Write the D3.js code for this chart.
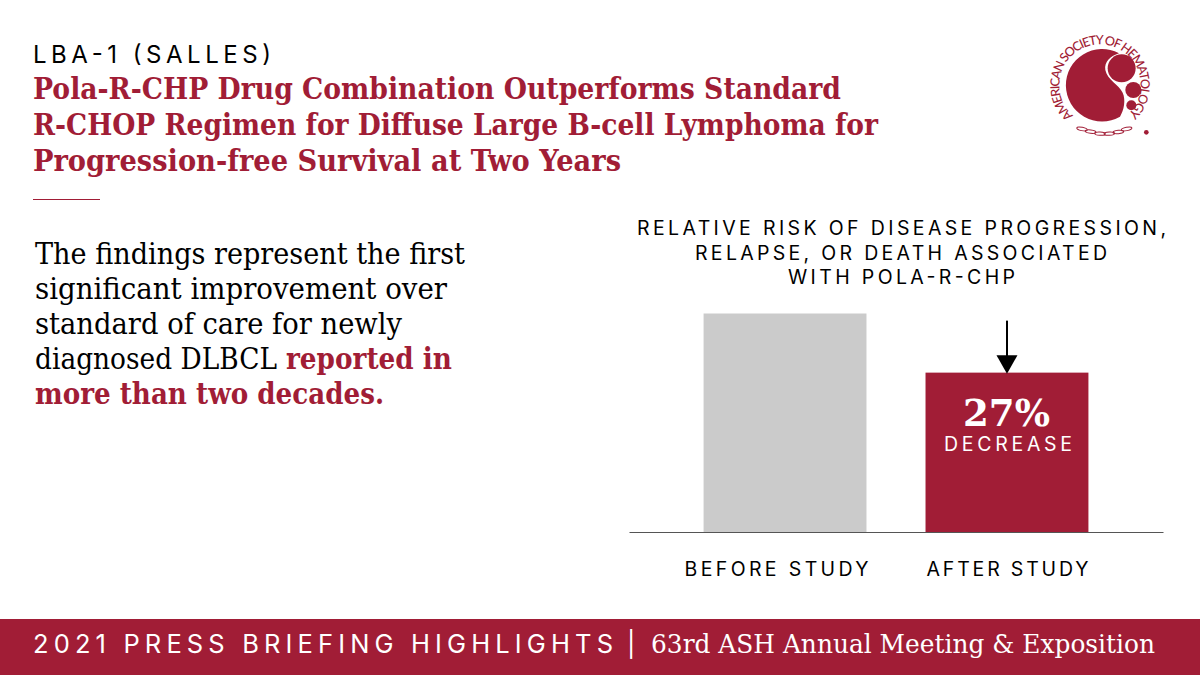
<!DOCTYPE html>
<html>
<head>
<meta charset="utf-8">
<script src="https://cdn.jsdelivr.net/npm/d3@7"></script>
<style>
  html, body { margin: 0; padding: 0; background: #fff; }
  svg { display: block; }
  .sans { font-family: Inter, Roboto, sans-serif; }
  .serif { font-family: "DejaVu Serif", serif; }
</style>
</head>
<body>
<div id="chart"></div>
<script>
// chart values
const categories = ["BEFORE STUDY", "AFTER STUDY"];
const riskValues = [100, 73];
const barColors = ["#cbcbcb", "#a11d36"];
const chartTitle = [
  "RELATIVE RISK OF DISEASE PROGRESSION,",
  "RELAPSE, OR DEATH ASSOCIATED",
  "WITH POLA-R-CHP"
];
const headline = [
  "Pola-R-CHP Drug Combination Outperforms Standard",
  "R-CHOP Regimen for Diffuse Large B-cell Lymphoma for",
  "Progression-free Survival at Two Years"
];
const bodyLines = [
  "The findings represent the first",
  "significant improvement over",
  "standard of care for newly",
  "diagnosed DLBCL"
];

const crimson = "#a11d36";
const svg = d3.select("#chart").append("svg").attr("width", 1200).attr("height", 675);

// fits a text to the width measured on the reference
function put(x, y, str, cls, size, width, opts = {}) {
  return svg.append("text")
    .attr("class", cls)
    .attr("x", x)
    .attr("y", y)
    .attr("font-size", size)
    .attr("font-weight", opts.weight || 400)
    .attr("fill", opts.fill || "#000")
    .attr("textLength", width)
    .attr("lengthAdjust", opts.adjust || "spacingAndGlyphs")
    .text(str);
}

// header
put(33, 63, "LBA-1 (SALLES)", "sans", 24, 238, { adjust: "spacing" });
const headlineWidths = [808, 845, 588];
headline.forEach((d, i) => {
  put(33, 99 + i * 36.2, d, "serif", 29.5, headlineWidths[i], { weight: 700, fill: crimson });
});
svg.append("line")
  .attr("x1", 33).attr("x2", 100)
  .attr("y1", 199.5).attr("y2", 199.5)
  .attr("stroke", crimson).attr("stroke-width", 1);

// body copy
const bodyWidths = [430, 412, 367, 242];
bodyLines.forEach((d, i) => {
  put(35, 264 + i * 35, d, "serif", 29, bodyWidths[i]);
});
put(286, 369, "reported in", "serif", 29, 166, { weight: 700, fill: crimson });
put(35, 404, "more than two decades.", "serif", 29, 349, { weight: 700, fill: crimson });

// chart
const chartTitleX = [637, 695, 788];
const chartTitleW = [529, 412, 227];
chartTitle.forEach((d, i) => {
  put(chartTitleX[i], 235 + i * 24.5, d, "sans", 19.5, chartTitleW[i], { adjust: "spacing" });
});

const x = d3.scaleBand()
  .domain(categories)
  .range([629, 1163])
  .paddingInner(0.266)
  .paddingOuter(0.336);

const y = d3.scaleLinear().domain([0, 100]).range([532.5, 313.5]);

svg.selectAll("rect.bar")
  .data(riskValues)
  .join("rect")
  .attr("class", "bar")
  .attr("x", (d, i) => x(categories[i]))
  .attr("y", (d) => y(d))
  .attr("width", x.bandwidth())
  .attr("height", (d) => y(0) - y(d))
  .attr("fill", (d, i) => barColors[i]);

const axis = svg.append("g")
  .attr("transform", `translate(0,${y(0) - 0.5})`)
  .call(d3.axisBottom(x).tickSize(0).tickPadding(30));
axis.select(".domain").attr("stroke", "#555").attr("stroke-width", 1.2);
// the reference labels are not quite centred under the bars
const labelShift = [-8.5, 0.5];
const labelWidth = [184, 162];
axis.selectAll(".tick text")
  .attr("class", "sans")
  .attr("font-size", 19.5)
  .attr("fill", "#000")
  .attr("text-anchor", "start")
  .attr("x", (d, i) => labelShift[i] - labelWidth[i] / 2)
  .attr("textLength", (d, i) => labelWidth[i])
  .attr("lengthAdjust", "spacing");

// arrow and callout on the second bar
const afterX = x(categories[1]) + x.bandwidth() / 2;
const afterY = y(riskValues[1]);
svg.append("line")
  .attr("x1", afterX).attr("x2", afterX)
  .attr("y1", afterY - 52).attr("y2", afterY - 8)
  .attr("stroke", "#000").attr("stroke-width", 2);
svg.append("path")
  .attr("d", d3.line()([[afterX - 10.5, afterY - 17.5], [afterX + 10.5, afterY - 17.5], [afterX, afterY + 1]]))
  .attr("fill", "#000");

put(963, afterY + 53, "27%", "serif", 38, 87, { weight: 700, fill: "#fff" });
put(944, afterY + 78, "DECREASE", "sans", 19.5, 128, { fill: "#fff", adjust: "spacing" });

// footer
svg.append("rect")
  .attr("x", 0).attr("y", 619)
  .attr("width", 1200).attr("height", 56)
  .attr("fill", crimson);
put(33, 653, "2021 PRESS BRIEFING HIGHLIGHTS", "sans", 25.5, 580, { fill: "#fff", adjust: "spacing" });
put(627, 653, "|", "sans", 25, 5, { fill: "#fff", adjust: "spacing" });
put(651, 653, "63rd ASH Annual Meeting & Exposition", "serif", 26, 504, { fill: "#fff" });

// logo
const logo = svg.append("g").attr("transform", "translate(1020,20) scale(0.3333)");
logo.append("path")
  .attr("d", "M297,100 A108.5,108.5 0 1 0 300,290 C312,270 318,240 308,218 C298,195 262,180 256,150 C252,125 272,108 297,100 Z")
  .attr("fill", crimson);
const logoDots = [[305, 145, 42], [340, 210, 24], [334, 256, 15]];
logo.selectAll("circle.dot")
  .data(logoDots)
  .join("circle")
  .attr("class", "dot")
  .attr("cx", (d) => d[0])
  .attr("cy", (d) => d[1])
  .attr("r", (d) => d[2])
  .attr("fill", crimson);

// ring text runs clockwise from lower left, the path is longer than the text
const ring = d3.path();
ring.arc(240, 195, 122, (131 * Math.PI) / 180, (440 * Math.PI) / 180);
svg.append("defs").append("path")
  .attr("id", "logoRing")
  .attr("d", ring.toString());
logo.append("text")
  .attr("font-family", "Lato, sans-serif")
  .attr("font-size", 38)
  .attr("font-weight", 500)
  .attr("fill", crimson)
  .append("textPath")
  .attr("href", "#logoRing")
  .attr("textLength", 585)
  .attr("lengthAdjust", "spacing")
  .text("AMERICAN SOCIETY OF HEMATOLOGY");

// chain under the blob
const chainLinks = [[186, 327, 12], [212, 335, 6], [240, 341, 3], [268, 341, -3], [295, 336, -6], [320, 327, -12]];
logo.selectAll("ellipse.link")
  .data(chainLinks)
  .join("ellipse")
  .attr("class", "link")
  .attr("rx", 16)
  .attr("ry", 5)
  .attr("transform", (d) => `translate(${d[0]},${d[1]}) rotate(${d[2]})`)
  .attr("fill", "none")
  .attr("stroke", crimson)
  .attr("stroke-width", 3);
logo.append("circle")
  .attr("cx", 379).attr("cy", 337).attr("r", 7)
  .attr("fill", crimson);
</script>
</body>
</html>
